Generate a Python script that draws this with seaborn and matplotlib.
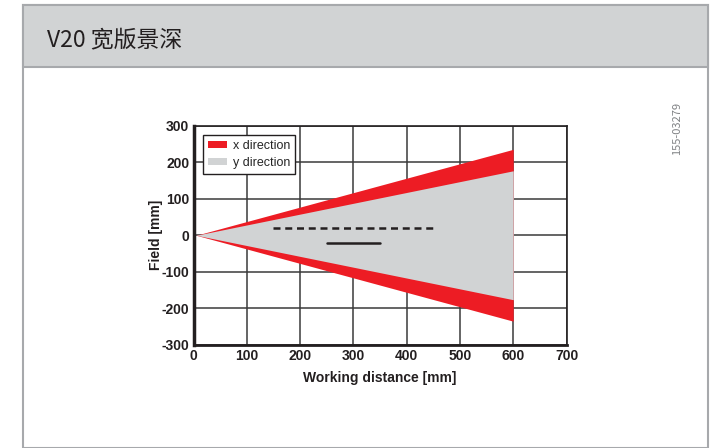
import numpy as np
import matplotlib.pyplot as plt
import pandas as pd
import seaborn as sns
from matplotlib.patches import Rectangle

# field of view half-widths vs working distance (mm)
distance = [5, 600]
x_half = [0, 236]
y_half = [0, 177]

# reference lines drawn inside the cone
dash_x = [150, 450]
dash_y = [20, 20]
solid_x = [250, 350]
solid_y = [-20, -20]

title = "V20 宽版景深"
code = "155-03279"
xticks = [0, 100, 200, 300, 400, 500, 600, 700]
yticks = [-300, -200, -100, 0, 100, 200, 300]

sns.set_style("white")
plt.rcParams['font.family'] = ['Liberation Sans', 'Noto Sans CJK SC', 'DejaVu Sans']
plt.rcParams['axes.unicode_minus'] = False

fig = plt.figure(figsize=(7.15, 4.48), dpi=100)
W, H = 715, 448

# page frame and grey header
fig.patches.append(Rectangle((23 / W, 0), (708 - 23) / W, (H - 5) / H, transform=fig.transFigure,
                             facecolor="white", edgecolor="#a7a9ac", lw=1.5, zorder=-2))
fig.patches.append(Rectangle((23 / W, (H - 67) / H), (708 - 23) / W, 62 / H, transform=fig.transFigure,
                             facecolor="#d1d3d4", edgecolor="#a7a9ac", lw=1.5, zorder=-1))
fig.text(47 / W, (H - 40) / H, title, fontsize=16.5, va="center", ha="left", color="#231f20",
         family=['Noto Sans CJK SC', 'DejaVu Sans'])
fig.text(677 / W, (H - 128) / H, code, fontsize=8, rotation=90, va="center", ha="center",
         color="#808285", family=['Noto Sans CJK SC', 'DejaVu Sans'], fontweight="light")

ax = fig.add_axes([193.5 / W, (H - 344.5) / H, 373 / W, 218.5 / H])
ax.set_zorder(2)

red = "#ed1c24"
grey = "#d1d3d4"
xh = np.array(x_half)
yh = np.array(y_half)
ax.fill_between(distance, -xh, xh, color=red, lw=0, zorder=2, label="x direction")
ax.fill_between(distance, -yh, yh, color=grey, lw=0, zorder=3, label="y direction")

lines = pd.DataFrame({
    "wd": dash_x + solid_x,
    "field": dash_y + solid_y,
    "kind": ["dash"] * len(dash_x) + ["solid"] * len(solid_x),
})
sns.lineplot(data=lines[lines.kind == "dash"], x="wd", y="field", ax=ax, color="#231f20",
             lw=1.8, linestyle=(0, (2.8, 1.9)), zorder=4, legend=False)
sns.lineplot(data=lines[lines.kind == "solid"], x="wd", y="field", ax=ax, color="#231f20",
             lw=1.8, zorder=4, legend=False)

ax.set_xlim(0, 700)
ax.set_ylim(-300, 300)
ax.set_xticks(xticks)
ax.set_yticks(yticks)
ax.grid(True, color="#3a3a3a", lw=1.1, zorder=1)
ax.set_axisbelow(True)
ax.tick_params(length=0, pad=3, labelsize=10)
for lab in ax.get_xticklabels() + ax.get_yticklabels():
    lab.set_fontweight("bold")
    lab.set_color("#231f20")
ax.set_xlabel("Working distance [mm]", fontsize=10, fontweight="bold", color="#231f20", labelpad=6)
ax.set_ylabel("Field [mm]", fontsize=10, fontweight="bold", color="#231f20", labelpad=-1)

for side, w in [("left", 2.5), ("bottom", 2.0), ("top", 1.2), ("right", 1.2)]:
    ax.spines[side].set_visible(True)
    ax.spines[side].set_color("#231f20")
    ax.spines[side].set_linewidth(w)

leg = ax.legend(loc="upper left", fontsize=9, frameon=True, fancybox=False, framealpha=1,
                edgecolor="#231f20", handlelength=1.5, handleheight=0.5, handletextpad=0.5,
                borderpad=0.4, labelspacing=0.35, borderaxespad=0.75)
leg.get_frame().set_linewidth(1.0)
leg.set_zorder(5)

fig.savefig("out.png", dpi=100)
